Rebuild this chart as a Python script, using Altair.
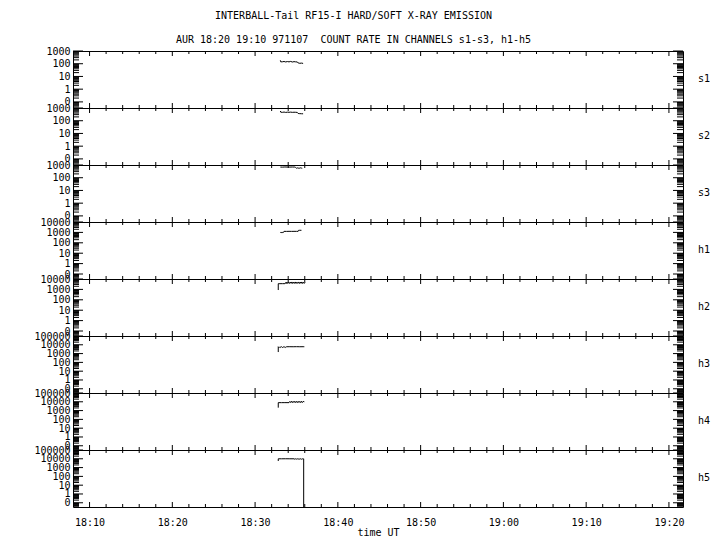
import altair as alt
import pandas as pd

FONT = "DejaVu Sans Mono"
W, H = 610, 57
XDOM = [8.0, 81.7]          # minutes after 18:00 UT
YMIN = 10 ** -1.48

title_lines = ["INTERBALL-Tail RF15-I HARD/SOFT X-RAY EMISSION",
               "AUR 18:20 19:10 971107\u00a0 COUNT RATE IN CHANNELS s1-s3, h1-h5"]
channels = ["s1", "s2", "s3", "h1", "h2", "h3", "h4", "h5"]
top_decades = [3, 3, 3, 4, 4, 5, 5, 5]

x_major = [10, 20, 30, 40, 50, 60, 70, 80]
x_minor = [12, 14, 16, 18, 22, 24, 26, 28, 32, 34, 36, 38, 42, 44, 46, 48,
           52, 54, 56, 58, 62, 64, 66, 68, 72, 74, 76, 78]

# time in minutes after 18:00 UT, count rates
s1_t = [33.05, 33.10, 33.30, 33.50, 33.70, 33.90, 34.10, 34.30, 34.50, 34.70, 34.90, 35.10, 35.20, 35.40, 35.60, 35.80]
s1_v = [185, 140, 142, 150, 138, 148, 140, 152, 136, 146, 140, 138, 115, 108, 112, 106]
s2_t = [33.05, 33.10, 33.30, 33.50, 33.70, 33.90, 34.10, 34.30, 34.50, 34.70, 34.90, 35.10, 35.20, 35.40, 35.60, 35.80]
s2_v = [580, 470, 455, 480, 450, 470, 460, 475, 455, 465, 460, 450, 370, 360, 355, 350]
s3_t = [33.05, 33.30, 33.60, 33.90, 34.20, 34.50, 34.80, 34.90, 35.00, 35.10, 35.20, 35.30, 35.40, 35.50, 35.60, 35.70]
s3_v = [690, 680, 700, 690, 685, 695, 690, 640, 560, 600, 550, 590, 560, 600, 570, 560]
h1_t = [33.05, 33.15, 33.25, 33.35, 33.45, 33.50, 33.80, 34.10, 34.40, 34.70, 35.00, 35.20, 35.25, 35.40, 35.60]
h1_v = [1000, 930, 1060, 960, 1040, 1260, 1250, 1270, 1255, 1265, 1260, 1260, 1580, 1600, 1590]
h2_t = [32.80, 32.80, 33.00, 33.30, 33.60, 33.70, 33.75, 33.85, 33.95, 34.05, 34.15, 34.25, 34.35, 34.45, 34.55,
        34.65, 34.75, 34.85, 34.95, 35.05, 35.15, 35.25, 35.35, 35.45, 35.55, 35.65, 35.75, 35.85, 35.95, 36.05]
h2_v = [870, 3550, 3550, 3560, 3550, 4600, 3600, 5100, 3700, 5200, 3750, 5000, 3800, 5200, 3700,
        5100, 3800, 5200, 3700, 5000, 3800, 5200, 3700, 5100, 3800, 5200, 3700, 5000, 3800, 5100]
h3_t = [32.80, 32.80, 32.90, 33.00, 33.10, 33.20, 33.30, 33.40, 33.50, 33.60, 33.70, 33.80, 34.20, 34.60, 35.00, 35.40, 35.80, 35.95]
h3_v = [1500, 6000, 4800, 6000, 5000, 6100, 4900, 5900, 5100, 6000, 5000, 6000, 6050, 6000, 6100, 6000, 6050, 6000]
h4_t = [32.80, 32.80, 33.20, 33.60, 34.10, 34.20, 34.30, 34.40, 34.50, 34.60, 34.70, 34.80, 34.90, 35.00, 35.10,
        35.20, 35.30, 35.40, 35.50, 35.60, 35.70, 35.80, 35.95]
h4_v = [2150, 8000, 8000, 8050, 8000, 11000, 8200, 11500, 8100, 11200, 8300, 11500, 8200, 11000, 8100,
        11400, 8300, 11200, 8200, 11500, 8100, 11000, 10000]
h5_t = [32.80, 32.80, 33.20, 33.70, 34.20, 34.70, 34.80, 34.90, 35.00, 35.10, 35.20, 35.30, 35.40, 35.50,
        35.60, 35.70, 35.80, 35.87, 35.87]
h5_v = [5600, 10000, 10000, 10100, 10000, 10000, 9000, 10000, 9200, 10000, 9000, 10000, 9100, 10000,
        9000, 10000, 9200, 10000, 0]

series = {
    "s1": (s1_t, s1_v), "s2": (s2_t, s2_v), "s3": (s3_t, s3_v), "h1": (h1_t, h1_v),
    "h2": (h2_t, h2_v), "h3": (h3_t, h3_v), "h4": (h4_t, h4_v), "h5": (h5_t, h5_v),
}

time_label = ("(datum.value >= 60 ? '19' : '18') + ':' + "
              "((datum.value % 60) < 10 ? '0' : '') + (datum.value % 60)")


def panel(i):
    name = channels[i]
    top = top_decades[i]
    last = i == len(channels) - 1
    xs = alt.Scale(domain=XDOM, nice=False, zero=False)
    ys = alt.Scale(type="log", domain=[YMIN, 10 ** top], nice=False)
    t, v = series[name]
    df = pd.DataFrame({"t": t, "v": v, "i": list(range(len(t)))})

    if last:
        xaxis = alt.Axis(values=x_major, labelExpr=time_label, title="time UT",
                         ticks=False, tickSize=0, domain=False, grid=False,
                         labelFont=FONT, labelFontSize=10, labelColor="black",
                         labelPadding=10, titleFont=FONT, titleFontSize=10,
                         titleFontWeight="normal", titleColor="black", titlePadding=0,
                         labelFlush=False)
    else:
        xaxis = None

    major_vals = [10.0 ** d for d in range(-1, top + 1)]
    minor_vals = [k * 10.0 ** d for d in range(-2, top) for k in range(2, 10)
                  if k * 10.0 ** d >= YMIN]

    yaxis = alt.Axis(values=major_vals,
                     labelExpr="datum.value < 1 ? '0' : format(datum.value, 'd')",
                     title=None, ticks=False, tickSize=0, domain=False, grid=False,
                     labelFont=FONT, labelFontSize=10, labelColor="black",
                     labelPadding=3, labelOverlap=False, labelFlush=False,
                     minExtent=64, maxExtent=64)

    line = alt.Chart(df).transform_calculate(
        vp="max(datum.v, 0.02)"
    ).mark_line(color="black", strokeWidth=1, clip=True).encode(
        x=alt.X("t:Q", scale=xs, axis=xaxis),
        y=alt.Y("vp:Q", scale=ys, axis=yaxis),
        order=alt.Order("i:Q"),
    )

    def yrule(vals, x1, x2):
        return alt.Chart(pd.DataFrame({"vp": vals})).mark_rule(
            color="black", strokeWidth=1).encode(
            y=alt.Y("vp:Q", scale=ys, axis=yaxis),
            x=alt.value(x1), x2=alt.value(x2))

    def xrule(vals, y1, y2):
        return alt.Chart(pd.DataFrame({"t": vals})).mark_rule(
            color="black", strokeWidth=1).encode(
            x=alt.X("t:Q", scale=xs, axis=xaxis),
            y=alt.value(y1), y2=alt.value(y2))

    label = alt.Chart(pd.DataFrame({"name": [name]})).mark_text(
        font=FONT, fontSize=10, align="center", baseline="middle", color="black"
    ).encode(text="name:N", x=alt.value(W + 21), y=alt.value(H / 2 - 1))

    layers = [
        line,
        yrule(major_vals, 0, 10), yrule(minor_vals, 0, 6),
        yrule(major_vals, W, W - 10), yrule(minor_vals, W, W - 6),
        xrule(x_major, 0, 5), xrule(x_minor, 0, 3),
        xrule(x_major, H, H - 5), xrule(x_minor, H, H - 3),
        label,
    ]
    return alt.layer(*layers).properties(width=W, height=H)


chart = alt.vconcat(
    *[panel(i) for i in range(len(channels))],
    spacing=0,
    bounds="flush",
    title=alt.Title(text=title_lines, font=FONT, fontSize=10, fontWeight="normal",
                    color="black", lineHeight=24, anchor="middle", offset=1, dx=-6),
).properties(
    padding={"left": 0, "top": 2, "right": 0, "bottom": 0},
    background="white",
).configure_view(
    stroke="black", strokeWidth=1
)

chart.save("out.html", embed_options={"renderer": "svg", "actions": False})
